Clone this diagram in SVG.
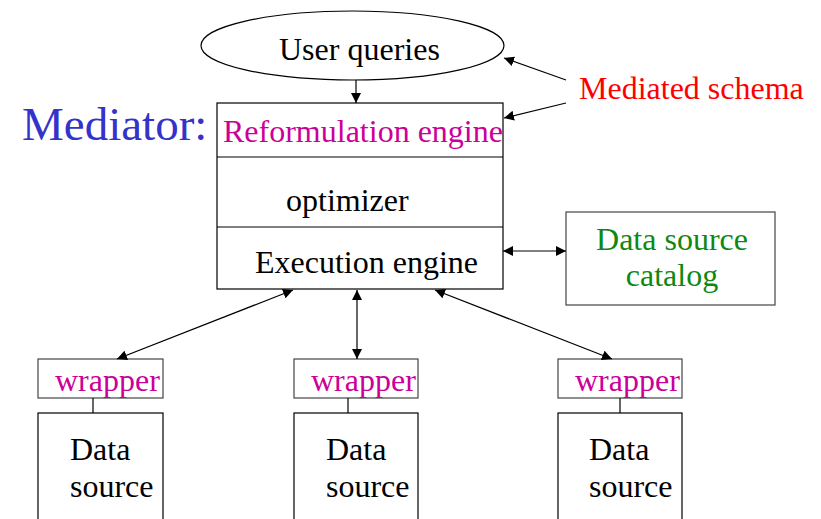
<svg xmlns="http://www.w3.org/2000/svg" width="821" height="519" viewBox="0 0 821 519">
<defs>
<marker id="ah" viewBox="0 0 10 10" refX="10" refY="5" markerWidth="10" markerHeight="10" markerUnits="userSpaceOnUse" orient="auto-start-reverse">
<path d="M0,0 L10,5 L0,10 z" fill="#000"/>
</marker>
<style>
text{font-family:"Liberation Serif","Times New Roman",serif;font-size:32px;fill:#000}
.box{fill:#fff;stroke:#000;stroke-width:1.2}
.gbox{fill:#fff;stroke:#444;stroke-width:1.2}
.mag{fill:#cc0099}
.conn{stroke:#000;stroke-width:1.2;fill:none}
</style>
</defs>
<rect width="821" height="519" fill="#fff"/>
<g id="user-queries">
<ellipse cx="352.5" cy="45.5" rx="151.5" ry="34.5" class="box"/>
<text x="279" y="60">User queries</text>
</g>
<g id="mediator-label">
<text x="22" y="140" style="font-size:47px;fill:#3333cc">Mediator:</text>
</g>
<g id="mediator">
<rect x="217" y="103" width="286" height="186" class="box"/>
<line x1="217" y1="157" x2="503" y2="157" class="conn"/>
<line x1="217" y1="227" x2="503" y2="227" class="conn"/>
<text x="223" y="142" class="mag">Reformulation engine</text>
<text x="286" y="211">optimizer</text>
<text x="255" y="273">Execution engine</text>
</g>
<g id="mediated-schema">
<text x="579" y="99" style="fill:#ff0000">Mediated schema</text>
</g>
<g id="catalog">
<rect x="566" y="212" width="209" height="93" class="gbox"/>
<text x="672" y="250" text-anchor="middle" style="fill:#108810">Data source</text>
<text x="672" y="286" text-anchor="middle" style="fill:#108810">catalog</text>
</g>
<g id="wrapper1">
<rect x="38" y="359" width="125" height="39" class="gbox"/>
<text x="55" y="391" class="mag">wrapper</text>
</g>
<g id="wrapper2">
<rect x="294" y="359" width="124" height="39" class="gbox"/>
<text x="311" y="391" class="mag">wrapper</text>
</g>
<g id="wrapper3">
<rect x="558" y="359" width="124" height="39" class="gbox"/>
<text x="575" y="391" class="mag">wrapper</text>
</g>
<g id="source1">
<rect x="38" y="413" width="125" height="130" class="box"/>
<text x="70" y="460">Data</text>
<text x="70" y="497">source</text>
</g>
<g id="source2">
<rect x="294" y="413" width="124" height="130" class="box"/>
<text x="326" y="460">Data</text>
<text x="326" y="497">source</text>
</g>
<g id="source3">
<rect x="558" y="413" width="124" height="130" class="box"/>
<text x="589" y="460">Data</text>
<text x="589" y="497">source</text>
</g>
<g id="connectors">
<line x1="356" y1="80" x2="356" y2="103" class="conn" marker-end="url(#ah)"/>
<line x1="566" y1="80" x2="504" y2="58" class="conn" marker-end="url(#ah)"/>
<line x1="566" y1="103" x2="504" y2="118" class="conn" marker-end="url(#ah)"/>
<line x1="503" y1="251" x2="566" y2="251" class="conn" marker-start="url(#ah)" marker-end="url(#ah)"/>
<line x1="293" y1="290" x2="117" y2="359" class="conn" marker-start="url(#ah)" marker-end="url(#ah)"/>
<line x1="357" y1="290" x2="357" y2="359" class="conn" marker-start="url(#ah)" marker-end="url(#ah)"/>
<line x1="435" y1="290" x2="612" y2="359" class="conn" marker-start="url(#ah)" marker-end="url(#ah)"/>
<line x1="93" y1="398" x2="93" y2="413" class="conn"/>
<line x1="348" y1="398" x2="348" y2="413" class="conn"/>
<line x1="620" y1="398" x2="620" y2="413" class="conn"/>
</g>
</svg>
